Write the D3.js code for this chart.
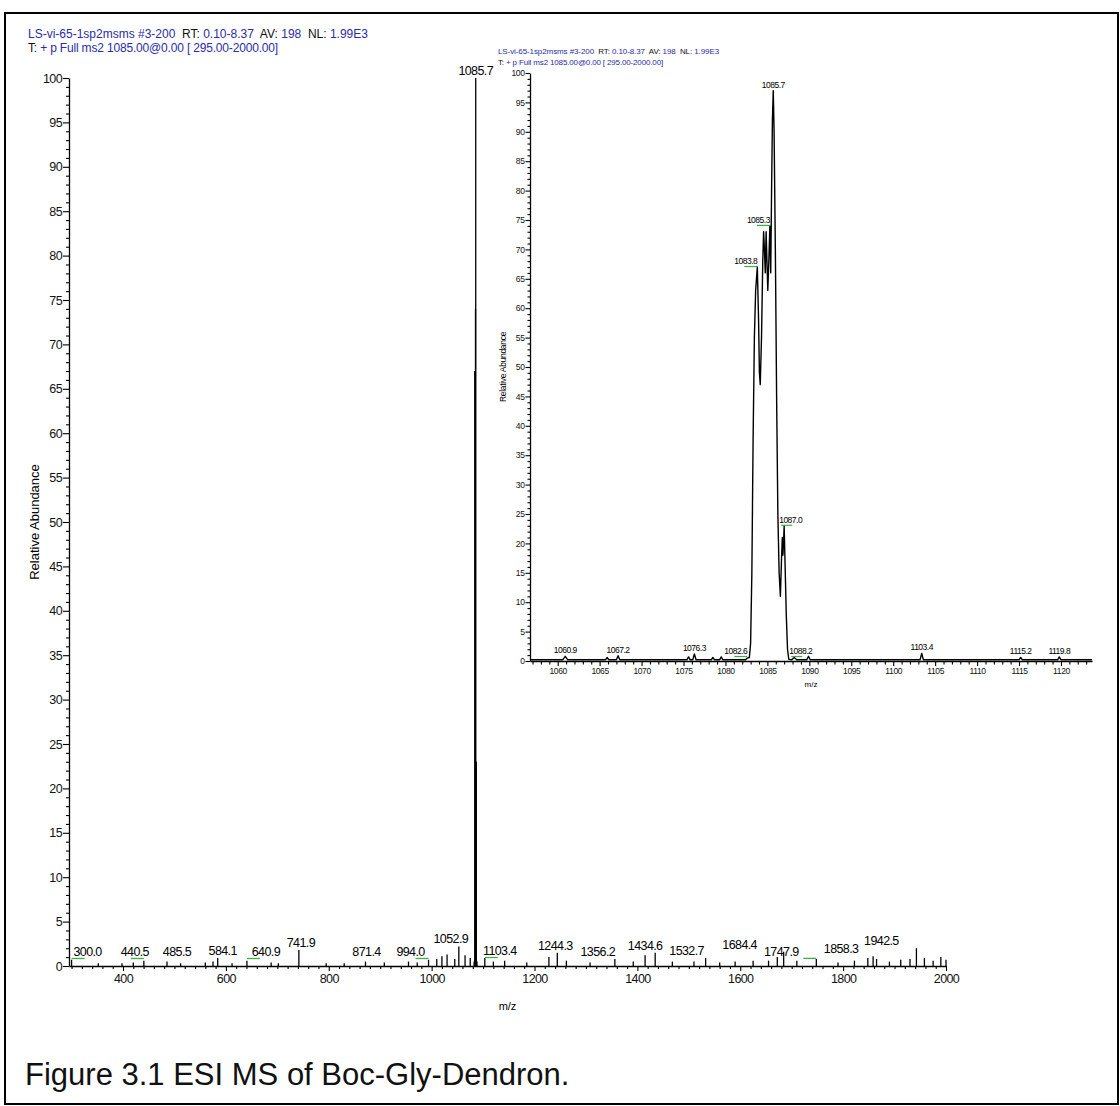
<!DOCTYPE html>
<html>
<head>
<meta charset="utf-8">
<script src="https://cdn.jsdelivr.net/npm/d3@7"></script>
<style>
  html, body { margin: 0; padding: 0; background: #fff; }
  svg { display: block; font-family: "Liberation Sans", Arial, sans-serif; }
</style>
</head>
<body>
<svg id="chart" width="1120" height="1106"></svg>
<script>
// ---- Full-range spectrum: centroid peaks [m/z, relative abundance %] ----
const mainPeaks = [
  [300.0, 0.7], [352, 0.3], [398, 0.3], [420, 0.4], [440.5, 0.6], [485.5, 0.5],
  [512, 0.3], [560, 0.4], [575, 0.5], [584.1, 0.9], [612, 0.3], [640.9, 0.6],
  [688, 0.4], [702, 0.3], [741.9, 1.8], [795, 0.3], [830, 0.3], [871.4, 0.5],
  [908, 0.4], [955, 0.5], [972, 0.4], [994.0, 0.7], [1010, 0.8], [1020, 1.1],
  [1030, 1.3], [1045, 0.8], [1052.9, 2.2], [1065, 1.2], [1075, 0.9],
  [1082.6, 0.5], [1083.8, 67], [1085.3, 74], [1085.7, 100], [1087.0, 23], [1088.2, 0.5],
  [1103.4, 0.9], [1120, 0.5], [1142, 0.6], [1185, 0.4], [1228, 1.0], [1244.3, 1.5],
  [1262, 0.6], [1308, 0.4], [1356.2, 0.8], [1392, 0.5], [1415, 1.2], [1434.6, 1.5],
  [1468, 0.5], [1510, 0.5], [1532.7, 0.9], [1560, 0.4], [1590, 0.5], [1625, 0.6],
  [1655, 0.6], [1672, 1.0], [1684.4, 1.6], [1710, 0.6], [1747.9, 0.8], [1790, 0.4],
  [1822, 0.6], [1848, 0.9], [1858.3, 1.1], [1865, 0.8], [1890, 0.5], [1912, 0.7],
  [1930, 0.8], [1942.5, 2.0], [1958, 0.9], [1975, 0.6], [1990, 1.0], [2000, 0.7]
];
// Peaks that carry an m/z label in the full-range view
const mainLabels = [300.0, 440.5, 485.5, 584.1, 640.9, 741.9, 871.4, 994.0, 1052.9,
  1085.7, 1103.4, 1244.3, 1356.2, 1434.6, 1532.7, 1684.4, 1747.9, 1858.3, 1942.5];
// Labels flagged with a green marker
const mainFlagged = [300.0, 440.5, 640.9, 994.0, 1103.4, 1747.9];
const mainXTicks = [400, 600, 800, 1000, 1200, 1400, 1600, 1800, 2000];
const mainYTicks = [0, 5, 10, 15, 20, 25, 30, 35, 40, 45, 50, 55, 60, 65, 70, 75, 80, 85, 90, 95, 100];

// ---- Zoomed profile around the base peak [m/z, relative abundance %] ----
const insetProfile = [
  [1056.7, 0.2], [1060.6, 0.2], [1060.9, 0.8], [1061.2, 0.2], [1065.7, 0.2], [1065.9, 0.6],
  [1066.1, 0.2], [1067.0, 0.2], [1067.2, 0.9], [1067.4, 0.2], [1075.4, 0.2], [1075.6, 0.7],
  [1075.8, 0.2], [1076.1, 0.2], [1076.3, 1.2], [1076.5, 0.2], [1078.3, 0.2], [1078.5, 0.6],
  [1078.7, 0.2], [1079.3, 0.2], [1079.5, 0.7], [1079.7, 0.2], [1082.4, 0.2], [1082.6, 0.5],
  [1082.85, 0.6], [1083.0, 3], [1083.15, 15], [1083.3, 38], [1083.45, 55], [1083.6, 63],
  [1083.8, 67], [1083.95, 58], [1084.05, 49], [1084.15, 47], [1084.3, 55], [1084.45, 68],
  [1084.55, 73], [1084.65, 70], [1084.75, 66], [1084.85, 73], [1084.95, 68], [1085.05, 63],
  [1085.15, 67], [1085.3, 74], [1085.4, 66], [1085.5, 80], [1085.6, 92], [1085.7, 97],
  [1085.8, 90], [1085.95, 70], [1086.1, 45], [1086.25, 25], [1086.4, 15], [1086.55, 11],
  [1086.7, 18], [1086.78, 21], [1086.85, 18], [1086.92, 20], [1087.0, 23], [1087.1, 17],
  [1087.25, 8], [1087.4, 2], [1087.55, 0.3], [1087.9, 0.2], [1088.2, 0.6], [1088.5, 0.2],
  [1089.7, 0.2], [1089.9, 0.8], [1090.1, 0.2], [1103.2, 0.2], [1103.4, 1.3], [1103.6, 0.2],
  [1115.0, 0.2], [1115.2, 0.6], [1115.4, 0.2], [1119.6, 0.2], [1119.8, 0.7], [1120.0, 0.2],
  [1123.7, 0.2]
];
const insetLabels = [1060.9, 1067.2, 1076.3, 1082.6, 1083.8, 1085.3, 1085.7, 1087.0, 1088.2, 1103.4, 1115.2, 1119.8];
const insetLeftLabels = [1082.6, 1083.8, 1085.3];   // text runs leftwards from the peak
const insetRightLabels = [1087.0, 1088.2];          // text runs rightwards from the peak
const insetXTicks = [1060, 1065, 1070, 1075, 1080, 1085, 1090, 1095, 1100, 1105, 1110, 1115, 1120];
const insetYTicks = mainYTicks;

const headerLine1 = [["LS-vi-65-1sp2msms #3-200", "v"], ["  RT: ", "k"], ["0.10-8.37", "v"],
  ["  AV: ", "k"], ["198", "v"], ["  NL: ", "k"], ["1.99E3", "v"]];
const headerLine2 = [["T: ", "k"], ["+ p Full ms2 1085.00@0.00 [ 295.00-2000.00]", "v"]];
const caption = "Figure 3.1 ESI MS of Boc-Gly-Dendron.";

const BLUE = "#2b2ba8";
const GREEN = "#3cb043";
const svg = d3.select("#chart");
const intFmt = d3.format("d");

// Frame
svg.append("rect").attr("x", 5).attr("y", 13).attr("width", 1113).attr("height", 1091)
  .attr("fill", "none").attr("stroke", "#000").attr("stroke-width", 2);

// Two-line scan header; letter spacing is tightened so each line spans the given width
function header(g, x, y1, y2, size, w1, w2) {
  [[headerLine1, y1, w1], [headerLine2, y2, w2]].forEach(([parts, y, w]) => {
    const t = g.append("text").attr("x", x).attr("y", y).attr("font-size", size)
      .attr("xml:space", "preserve").style("white-space", "pre");
    parts.forEach(([s, c]) => t.append("tspan").text(s).attr("fill", c === "v" ? BLUE : "#111"));
    const n = parts.reduce((a, p) => a + p[0].length, 0);
    const natural = t.node().getComputedTextLength();
    t.attr("letter-spacing", (w - natural) / n);
  });
}

// ================= Full-range panel =================
const mx = d3.scaleLinear().domain([295, 2000]).range([69, 946]);
const my = d3.scaleLinear().domain([0, 100]).range([966, 78]);
const main = svg.append("g");

header(main, 28, 38, 52, 12, 340, 250);

// y axis
main.append("g").attr("transform", `translate(${mx.range()[0]},0)`)
  .call(d3.axisLeft(my).tickValues(d3.range(0, 101, 1).filter(v => v % 5))
    .tickSize(3).tickFormat("").tickSizeOuter(0))
  .call(g => g.select(".domain").remove());
main.append("g").attr("transform", `translate(${mx.range()[0]},0)`)
  .call(d3.axisLeft(my).tickValues(mainYTicks).tickSize(6).tickPadding(1).tickSizeOuter(0))
  .call(g => g.selectAll("text").attr("font-size", 12.5).attr("letter-spacing", -0.6).attr("fill", "#111"));

// x axis
main.append("g").attr("transform", `translate(0,${my(0)})`)
  .call(d3.axisBottom(mx).tickValues(d3.range(300, 2001, 20).filter(v => v % 200))
    .tickSize(3).tickFormat("").tickSizeOuter(0))
  .call(g => g.select(".domain").remove());
main.append("g").attr("transform", `translate(0,${my(0)})`)
  .call(d3.axisBottom(mx).tickValues(mainXTicks).tickFormat(intFmt).tickSize(5).tickPadding(3).tickSizeOuter(0))
  .call(g => g.selectAll("text").attr("font-size", 12.5).attr("letter-spacing", -0.6).attr("fill", "#111"));
main.selectAll(".domain").attr("stroke-width", 1.3);
main.selectAll(".tick line").attr("stroke-width", 1.1);

main.append("text").attr("x", (mx.range()[0] + mx.range()[1]) / 2).attr("y", my(0) + 44)
  .attr("text-anchor", "middle").attr("font-size", 11).text("m/z");
main.append("text").attr("transform", `translate(39,${(my(0) + my(100)) / 2}) rotate(-90)`)
  .attr("text-anchor", "middle").attr("font-size", 13).text("Relative Abundance");

// sticks
main.append("g").selectAll("line").data(mainPeaks).join("line")
  .attr("x1", d => mx(d[0])).attr("x2", d => mx(d[0]))
  .attr("y1", my(0)).attr("y2", d => my(d[1]))
  .attr("stroke", "#000").attr("stroke-width", 1.3);

// peak labels; crowded labels are slid sideways (pixels) so they do not collide
const labelShift = { 300: 16, 440.5: -9, 485.5: 10, 584.1: 5, 640.9: 19, 741.9: 2, 871.4: 1,
  994: -18, 1052.9: -8, 1103.4: 15, 1244.3: -2, 1356.2: -17, 1434.6: -10, 1532.7: -19,
  1684.4: -44, 1747.9: -35, 1858.3: -32, 1942.5: -35 };
const mainHeight = m => (mainPeaks.find(p => p[0] === m) || [m, 0])[1];
const mlab = main.append("g").attr("font-size", 12.5).attr("letter-spacing", -0.6).attr("text-anchor", "middle");
mainLabels.forEach(m => {
  const y = Math.min(my(mainHeight(m)), my(0) - 7) - 3;
  const dx = labelShift[m] || 0;
  mlab.append("text").attr("x", mx(m) + dx).attr("y", y).text(m.toFixed(1));
  if (mainFlagged.includes(m)) {
    const x0 = dx >= 0 ? mx(m) : mx(m) - 13;
    main.append("line").attr("x1", x0).attr("x2", x0 + 13)
      .attr("y1", y + 2.5).attr("y2", y + 2.5).attr("stroke", GREEN).attr("stroke-width", 1.3);
  }
});

// ================= Zoomed inset =================
const ix = d3.scaleLinear().domain([1056.7, 1123.7]).range([530, 1092]);
const iy = d3.scaleLinear().domain([0, 100]).range([661, 73]);
const ins = svg.append("g");

header(ins, 498, 53.5, 64.5, 8, 221, 165);

ins.append("g").attr("transform", `translate(${ix.range()[0]},0)`)
  .call(d3.axisLeft(iy).tickValues(d3.range(0, 101, 1).filter(v => v % 5))
    .tickSize(2.5).tickFormat("").tickSizeOuter(0))
  .call(g => g.select(".domain").remove());
ins.append("g").attr("transform", `translate(${ix.range()[0]},0)`)
  .call(d3.axisLeft(iy).tickValues(insetYTicks).tickSize(4.5).tickPadding(1).tickSizeOuter(0))
  .call(g => g.selectAll("text").attr("font-size", 8.5).attr("letter-spacing", -0.4).attr("fill", "#111"));

ins.append("g").attr("transform", `translate(0,${iy(0)})`)
  .call(d3.axisBottom(ix).tickValues(d3.range(1057, 1124, 1).filter(v => v % 5))
    .tickSize(3.5).tickFormat("").tickSizeOuter(0))
  .call(g => g.select(".domain").remove());
ins.append("g").attr("transform", `translate(0,${iy(0)})`)
  .call(d3.axisBottom(ix).tickValues(insetXTicks).tickFormat(intFmt).tickSize(5).tickPadding(2).tickSizeOuter(0))
  .call(g => g.selectAll("text").attr("font-size", 8.5).attr("letter-spacing", -0.4).attr("fill", "#111"));
ins.selectAll(".domain").attr("stroke-width", 1.3);
ins.selectAll(".tick line").attr("stroke-width", 1.1);

ins.append("text").attr("x", (ix.range()[0] + ix.range()[1]) / 2).attr("y", iy(0) + 26)
  .attr("text-anchor", "middle").attr("font-size", 8).text("m/z");
ins.append("text").attr("transform", `translate(506,${(iy(0) + iy(100)) / 2}) rotate(-90)`)
  .attr("text-anchor", "middle").attr("font-size", 8.5).attr("letter-spacing", -0.3).text("Relative Abundance");

ins.append("path").datum(insetProfile)
  .attr("d", d3.line().x(d => ix(d[0])).y(d => iy(d[1])))
  .attr("fill", "none").attr("stroke", "#000").attr("stroke-width", 1.4).attr("stroke-linejoin", "round");

const insetHeight = m => d3.max(insetProfile.filter(p => Math.abs(p[0] - m) < 0.06), p => p[1]) || 0;
const ilab = ins.append("g").attr("font-size", 8.5).attr("letter-spacing", -0.5);
insetLabels.forEach(m => {
  const y = Math.min(iy(insetHeight(m)), iy(0) - 4) - 3;
  const x = ix(m);
  const t = ilab.append("text").attr("y", y).text(m.toFixed(1));
  if (insetLeftLabels.includes(m)) {
    t.attr("x", x).attr("text-anchor", "end");
    ins.append("line").attr("x1", x - 13).attr("x2", x).attr("y1", y + 2.5).attr("y2", y + 2.5)
      .attr("stroke", GREEN).attr("stroke-width", 1.2);
  } else if (insetRightLabels.includes(m)) {
    t.attr("x", x - 5).attr("text-anchor", "start");
    ins.append("line").attr("x1", x - 3).attr("x2", x + 8).attr("y1", y + 2.5).attr("y2", y + 2.5)
      .attr("stroke", GREEN).attr("stroke-width", 1.2);
  } else {
    t.attr("x", x).attr("text-anchor", "middle");
  }
});

// Caption
svg.append("text").attr("x", 25).attr("y", 1085).attr("font-size", 31).attr("fill", "#111").text(caption);
</script>
</body>
</html>
